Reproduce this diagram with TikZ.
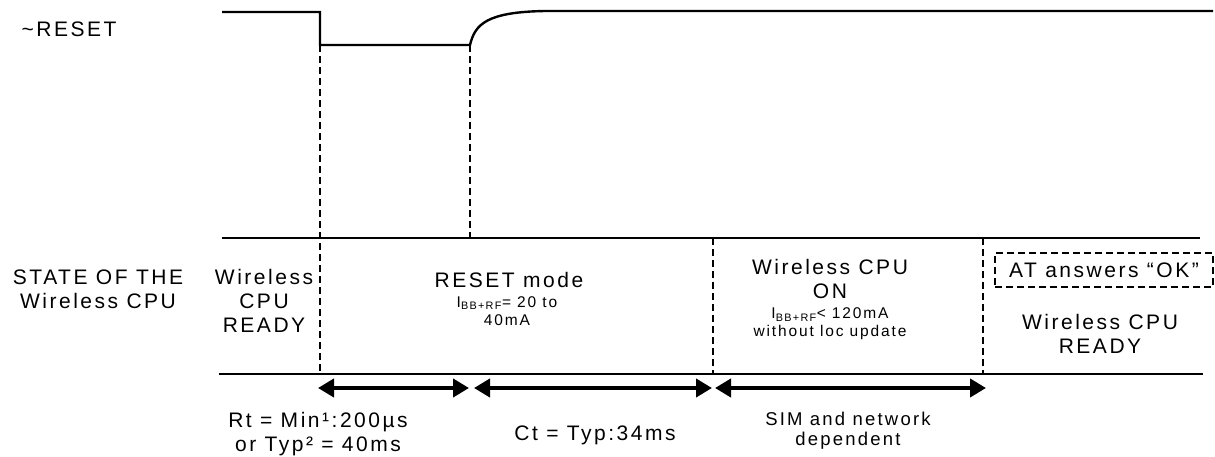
\documentclass[tikz,border=0pt]{standalone}
\usepackage{fontspec}
\setmainfont{Liberation Sans}[LetterSpace=12]
\usetikzlibrary{arrows.meta}

\begin{document}
\begin{tikzpicture}[x=1pt,y=-1pt,
  big/.style={font=\fontsize{21}{24}\selectfont, align=center, inner sep=0pt},
  small/.style={font=\fontsize{15.5}{18}\selectfont, align=center, inner sep=0pt},
  mid/.style={font=\fontsize{18.5}{20}\selectfont, align=center, inner sep=0pt},
  wave/.style={line width=2.4pt},
  guide/.style={line width=2.6pt, dash pattern=on 7pt off 4pt},
  span/.style={line width=4pt, {Triangle[length=16pt,width=18pt]}-{Triangle[length=16pt,width=18pt]}}]
\useasboundingbox (0,0) rectangle (1215,457);
% ~RESET signal
\coordinate (s0) at (222,12);
\coordinate (s1) at (320,12);
\coordinate (s2) at (320,45);
\coordinate (s3) at (470,45);
\coordinate (s4) at (545,11);
\coordinate (s5) at (1213,11);
\path[draw,wave] (s0) -- (s1) -- (s2) -- (s3) .. controls (475,24) and (487,12) .. (s4) -- (s5);
% state band
\coordinate (t0) at (222,238);
\coordinate (t2) at (470,238);
\coordinate (t3) at (713,238);
\coordinate (t4) at (983,238);
\coordinate (t5) at (1200,238);
\coordinate (b0) at (219,374);
\coordinate (b1) at (320,374);
\coordinate (b3) at (713,374);
\coordinate (b4) at (983,374);
\coordinate (b5) at (1203,374);
\path[draw,wave] (t0) -- (t5);
\path[draw,wave] (b0) -- (b5);
\path[draw,guide] (s2) -- (b1);
\path[draw,guide] (s3) -- (t2);
\path[draw,guide] (t3) -- (b3);
\path[draw,guide] (t4) -- (b4);
% timings
\coordinate (a1) at (318,388);
\coordinate (a2) at (469,388);
\coordinate (a3) at (474,388);
\coordinate (a4) at (712,388);
\coordinate (a5) at (715,388);
\coordinate (a6) at (986,388);
\path[draw,span] (a1) -- (a2);
\path[draw,span] (a3) -- (a4);
\path[draw,span] (a5) -- (a6);
% labels
\node[big] (rst) at (69,29) {\textasciitilde RESET};
\node[big] (state) at (98,289) {STATE OF THE\\Wireless CPU};
\node[big] (ready1) at (264,301) {Wireless\\CPU\\READY};
\node[big] (rmode) at (509,280) {RESET mode};
\node[small] (rcur) at (507,311) {I\textsubscript{BB+RF}= 20 to\\40mA};
\node[big] (on) at (830,279) {Wireless CPU\\ON};
\node[small] (oncur) at (830,324) {I\textsubscript{BB+RF}< 120mA\\without loc update};
\node[big, draw, guide, minimum width=218pt, minimum height=34pt] (ok) at (1104,270) {AT answers “OK”};
\node[big] (ready2) at (1100,334) {Wireless CPU\\READY};
\node[big] (rt) at (318,434) {Rt = Min¹:200µs\\or Typ² = 40ms};
\node[big] (ct) at (595,435) {Ct = Typ:34ms};
\node[mid] (sim) at (848,431) {SIM and network\\dependent};
\end{tikzpicture}
\end{document}
